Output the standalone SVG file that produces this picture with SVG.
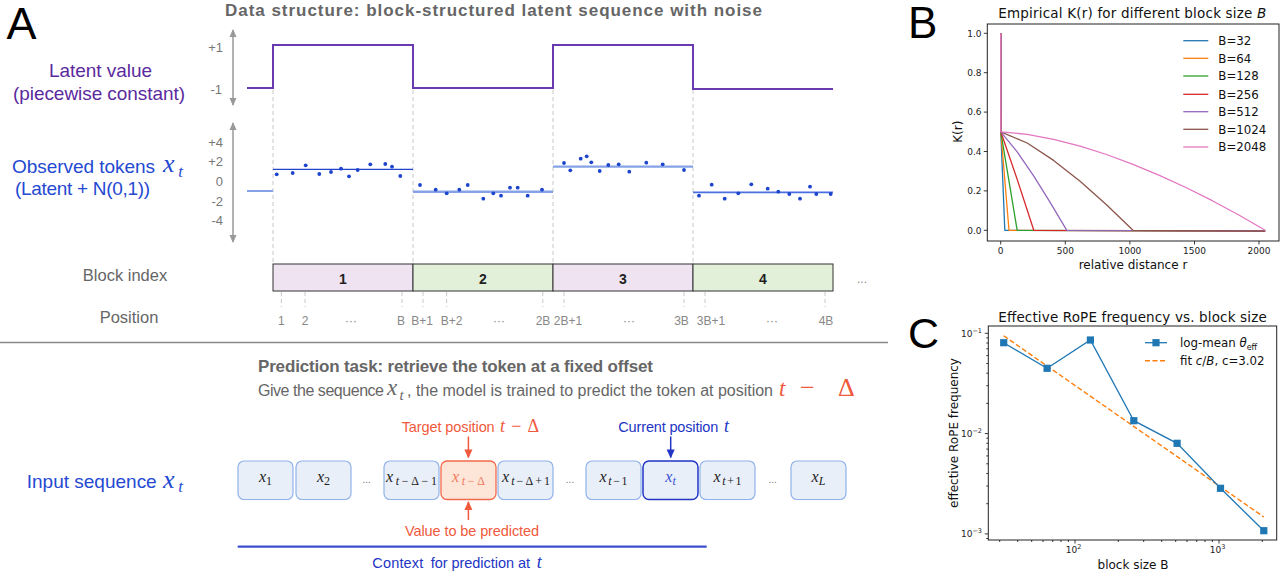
<svg xmlns="http://www.w3.org/2000/svg" width="1283" height="577" viewBox="0 0 1283 577">
<style>
  .sans{font-family:"Liberation Sans",Arial,Helvetica,sans-serif}
  .mpl{font-family:"DejaVu Sans",Verdana,sans-serif}
  .math{font-family:"Liberation Serif","Times New Roman",serif;font-style:italic}
  .up{font-style:normal}
  .panel{font-family:"Liberation Sans",Arial,sans-serif;fill:#000}
  .title{font-family:"Liberation Sans",Arial,sans-serif;font-size:17px;font-weight:bold;fill:#666}
  .purple{fill:#5b2a9e}
  .blue{fill:#2449d2}
  .dblue{fill:#2235c4}
  .orange{fill:#f05a3c}
  .gray{fill:#666}
  .ytl{fill:#777;font-size:13px}
  .dash{stroke:#c8c8c8;stroke-width:1;stroke-dasharray:4 3;fill:none}
  .vaxis{stroke:#999;stroke-width:1.5;fill:none}
  .dot{fill:#1c44cc}
  .blk{stroke:#333;stroke-width:1}
  .pb{fill:#efe3f2}
  .gb{fill:#e2efd9}
  .bnum{font-family:"Liberation Sans",Arial,sans-serif;font-size:14px;font-weight:bold;fill:#222}
  .pos{font-family:"Liberation Sans",Arial,sans-serif;fill:#888;font-size:12px}
  .tok{fill:#e9eff9;stroke:#91b2ea;stroke-width:1.2}
  .tl{font-size:16px;fill:#222}
  .sub{font-size:12px}
  .dots{font-family:"Liberation Sans",Arial,sans-serif;font-size:10px;fill:#777}
  .frame{fill:none;stroke:#222;stroke-width:1}
  .tk{stroke:#222;stroke-width:0.9}
  .tkl{font-family:"DejaVu Sans",Verdana,sans-serif;font-size:9px;fill:#222}
  .sup{font-size:6.5px}
  .curve{fill:none;stroke-width:1.3;stroke-linejoin:round}
</style>
<defs>
  <marker id="gHead" viewBox="0 0 8 8" refX="7" refY="4" markerWidth="8" markerHeight="8" markerUnits="userSpaceOnUse" orient="auto-start-reverse">
    <path d="M0,0.5 L8,4 L0,7.5 Z" fill="#999"/>
  </marker>
  <marker id="oHead" viewBox="0 0 10 10" refX="9" refY="5" markerWidth="9" markerHeight="9" markerUnits="userSpaceOnUse" orient="auto">
    <path d="M0,0.5 L10,5 L0,9.5 Z" fill="#f05a3c"/>
  </marker>
  <marker id="bHead" viewBox="0 0 10 10" refX="9" refY="5" markerWidth="9" markerHeight="9" markerUnits="userSpaceOnUse" orient="auto">
    <path d="M0,0.5 L10,5 L0,9.5 Z" fill="#2235c4"/>
  </marker>
  <rect id="sq" x="-3.6" y="-3.6" width="7.2" height="7.2" fill="#1f77b4"/>
</defs>

<!-- ===================== Panel A ===================== -->
<g id="panel-a">
  <text class="panel" x="6.5" y="39" font-size="45">A</text>
  <text class="title" x="225" y="16" textLength="537">Data structure: block-structured latent sequence with noise</text>

  <!-- left-hand row labels -->
  <g id="label-latent" class="sans purple" font-size="19" text-anchor="middle">
    <text x="100.5" y="77" textLength="103">Latent value</text>
    <text x="99" y="99.5" textLength="172">(piecewise constant)</text>
  </g>
  <g id="label-observed" class="blue">
    <text class="sans" x="12" y="173" font-size="19" textLength="143">Observed tokens</text>
    <text class="math" x="163" y="172" font-size="26">x</text>
    <text class="math" x="178.3" y="176.5" font-size="17">t</text>
    <text class="sans" x="15" y="195" font-size="19" textLength="135">(Latent + N(0,1))</text>
  </g>
  <g id="label-rows" class="sans gray" font-size="16.5" text-anchor="middle">
    <text x="125" y="281">Block index</text>
    <text x="129" y="323">Position</text>
  </g>

  <!-- vertical value axes -->
  <g id="value-axes">
    <line class="vaxis" x1="233" y1="30" x2="233" y2="105" marker-start="url(#gHead)" marker-end="url(#gHead)"/>
    <line class="vaxis" x1="233" y1="123" x2="233" y2="242" marker-start="url(#gHead)" marker-end="url(#gHead)"/>
    <g class="sans ytl" text-anchor="end">
      <text x="223" y="51.5">+1</text>
      <text x="222" y="94.3">-1</text>
      <text x="223" y="146.5">+4</text>
      <text x="223" y="166">+2</text>
      <text x="223" y="186">0</text>
      <text x="223" y="206">-2</text>
      <text x="223" y="225">-4</text>
    </g>
  </g>

  <!-- block boundaries -->
  <g id="boundaries">
    <line class="dash" x1="273" y1="90" x2="273" y2="264"/>
    <line class="dash" x1="413" y1="90" x2="413" y2="264"/>
    <line class="dash" x1="553" y1="90" x2="553" y2="264"/>
    <line class="dash" x1="693" y1="90" x2="693" y2="264"/>
  </g>

  <!-- latent step signal -->
  <polyline id="latent" fill="none" stroke="#6a3bb0" stroke-width="2" points="247,88 273,88 273,45 413,45 413,88 553,88 553,45 693,45 693,89 833,89"/>

  <!-- observed tokens: block means and samples -->
  <g id="observed">
    <line x1="247" y1="191" x2="273" y2="191" stroke="#86a2e6" stroke-width="2"/>
    <line x1="273" y1="169.3" x2="413" y2="169.3" stroke="#2244cc" stroke-width="1.3"/>
    <line x1="413" y1="191.7" x2="553" y2="191.7" stroke="#86a2e6" stroke-width="2.4"/>
    <line x1="553" y1="166.7" x2="693" y2="166.7" stroke="#86a2e6" stroke-width="2.2"/>
    <line x1="693" y1="192.3" x2="833" y2="192.3" stroke="#4b6fe0" stroke-width="1.8"/>
    <g class="dot">
      <circle cx="276.7" cy="174.3" r="1.9"/><circle cx="292.7" cy="173" r="1.9"/><circle cx="305.7" cy="165.3" r="1.9"/>
      <circle cx="319.3" cy="174" r="1.9"/><circle cx="331" cy="172" r="1.9"/><circle cx="341" cy="168.7" r="1.9"/>
      <circle cx="349" cy="176.3" r="1.9"/><circle cx="357.7" cy="170" r="1.9"/><circle cx="370.3" cy="164.3" r="1.9"/>
      <circle cx="385.3" cy="164" r="1.9"/><circle cx="392" cy="166.7" r="1.9"/><circle cx="400.3" cy="176" r="1.9"/>

      <circle cx="420" cy="185" r="1.9"/><circle cx="435.7" cy="189.7" r="1.9"/><circle cx="446.7" cy="193.3" r="1.9"/>
      <circle cx="459.3" cy="189.7" r="1.9"/><circle cx="467.7" cy="185" r="1.9"/><circle cx="483.3" cy="198.7" r="1.9"/>
      <circle cx="493.3" cy="193.3" r="1.9"/><circle cx="501" cy="195.7" r="1.9"/><circle cx="510" cy="187.7" r="1.9"/>
      <circle cx="517.7" cy="187.7" r="1.9"/><circle cx="527.7" cy="195.7" r="1.9"/><circle cx="542" cy="189.7" r="1.9"/>

      <circle cx="564" cy="163" r="1.9"/><circle cx="570.3" cy="170.3" r="1.9"/><circle cx="580.7" cy="158.7" r="1.9"/>
      <circle cx="586.7" cy="156.3" r="1.9"/><circle cx="591.3" cy="162.3" r="1.9"/><circle cx="599.7" cy="171" r="1.9"/>
      <circle cx="608.3" cy="165" r="1.9"/><circle cx="618.7" cy="164.3" r="1.9"/><circle cx="629.3" cy="171.7" r="1.9"/>
      <circle cx="646.3" cy="162.7" r="1.9"/><circle cx="662.7" cy="164.3" r="1.9"/><circle cx="684" cy="170" r="1.9"/>

      <circle cx="699" cy="195.7" r="1.9"/><circle cx="711.7" cy="184.7" r="1.9"/><circle cx="724.7" cy="198.7" r="1.9"/>
      <circle cx="738.3" cy="193.3" r="1.9"/><circle cx="751.3" cy="184.3" r="1.9"/><circle cx="767.7" cy="188.7" r="1.9"/>
      <circle cx="778.3" cy="191.7" r="1.9"/><circle cx="789.3" cy="194" r="1.9"/><circle cx="800" cy="198.7" r="1.9"/>
      <circle cx="810" cy="186.7" r="1.9"/><circle cx="816.3" cy="194" r="1.9"/><circle cx="830.7" cy="194" r="1.9"/>
    </g>
  </g>

  <!-- block index strip -->
  <g id="block-1"><rect class="blk pb" x="273" y="264" width="140" height="27"/><text class="bnum" x="343" y="284" text-anchor="middle">1</text></g>
  <g id="block-2"><rect class="blk gb" x="413" y="264" width="140" height="27"/><text class="bnum" x="483" y="284" text-anchor="middle">2</text></g>
  <g id="block-3"><rect class="blk pb" x="553" y="264" width="140" height="27"/><text class="bnum" x="623" y="284" text-anchor="middle">3</text></g>
  <g id="block-4"><rect class="blk gb" x="693" y="264" width="140" height="27"/><text class="bnum" x="763" y="284" text-anchor="middle">4</text></g>
  <text class="pos" x="862" y="283" text-anchor="middle">...</text>

  <!-- position ticks -->
  <g id="positions">
    <g class="dash">
      <line x1="281.4" y1="292" x2="281.4" y2="307"/><line x1="305" y1="292" x2="305" y2="307"/>
      <line x1="402" y1="292" x2="402" y2="307"/><line x1="423" y1="292" x2="423" y2="307"/>
      <line x1="446.6" y1="292" x2="446.6" y2="307"/><line x1="542.8" y1="292" x2="542.8" y2="307"/>
      <line x1="564" y1="292" x2="564" y2="307"/><line x1="684" y1="292" x2="684" y2="307"/>
      <line x1="705" y1="292" x2="705" y2="307"/><line x1="825" y1="292" x2="825" y2="307"/>
    </g>
    <g class="pos" text-anchor="middle">
      <text x="281.4" y="325">1</text><text x="305" y="325">2</text><text x="351" y="325">···</text>
      <text x="401" y="325">B</text><text x="422" y="325">B+1</text><text x="451.6" y="325">B+2</text>
      <text x="499" y="325">···</text><text x="543" y="325">2B</text><text x="568" y="325">2B+1</text>
      <text x="629" y="325">···</text><text x="681.5" y="325">3B</text><text x="711" y="325">3B+1</text>
      <text x="772" y="325">···</text><text x="826" y="325">4B</text>
    </g>
  </g>

  <!-- section divider -->
  <line id="divider" x1="0" y1="342.5" x2="888" y2="342.5" stroke="#888" stroke-width="1.5"/>

  <!-- prediction task -->
  <text class="title" x="258" y="372" font-size="16" textLength="395">Prediction task: retrieve the token at a fixed offset</text>
  <g id="task-text" class="gray">
    <text class="sans" x="258" y="396" font-size="16" textLength="126">Give the sequence</text>
    <text class="math" x="387" y="395" font-size="23">x</text>
    <text class="math" x="399.5" y="399.5" font-size="15">t</text>
    <text class="sans" x="407" y="396" font-size="16" textLength="366">, the model is trained to predict the token at position</text>
    <g class="orange">
      <text class="math" x="779" y="396" font-size="23">t</text>
      <text class="math up" x="800" y="396" font-size="26">−</text>
      <text class="math up" x="838" y="396" font-size="26">Δ</text>
    </g>
  </g>

  <g id="label-input" class="blue">
    <text class="sans" x="26.7" y="488" font-size="19" textLength="130">Input sequence</text>
    <text class="math" x="163" y="488" font-size="26">x</text>
    <text class="math" x="178.3" y="492" font-size="17">t</text>
  </g>

  <!-- token sequence -->
  <g id="tok-x1"><rect class="tok" x="238" y="461" width="55" height="38.5" rx="6"/><text class="math tl" x="265.5" y="482" text-anchor="middle">x<tspan class="sub up" dy="3">1</tspan></text></g>
  <g id="tok-x2"><rect class="tok" x="296" y="461" width="55" height="38.5" rx="6"/><text class="math tl" x="323.5" y="482" text-anchor="middle">x<tspan class="sub up" dy="3">2</tspan></text></g>
  <text class="dots" x="366.7" y="483" text-anchor="middle">...</text>
  <g id="tok-xtd-1"><rect class="tok" x="384" y="461" width="55" height="38.5" rx="6"/><text class="math tl" x="411.5" y="482" text-anchor="middle" textLength="51">x<tspan class="sub" dy="3">t</tspan><tspan class="sub up">−Δ−1</tspan></text></g>
  <g id="tok-xtd"><rect x="441" y="461" width="55" height="38.5" rx="6" fill="#fde5d8" stroke="#f2694b" stroke-width="1.3"/><text class="math tl" x="468.5" y="482" text-anchor="middle" textLength="33" style="fill:#f07a5c">x<tspan class="sub" dy="3">t</tspan><tspan class="sub up">−Δ</tspan></text></g>
  <g id="tok-xtd+1"><rect class="tok" x="498" y="461" width="55" height="38.5" rx="6"/><text class="math tl" x="526" y="482" text-anchor="middle" textLength="48">x<tspan class="sub" dy="3">t</tspan><tspan class="sub up">−Δ+1</tspan></text></g>
  <text class="dots" x="570" y="483" text-anchor="middle">...</text>
  <g id="tok-xt-1"><rect class="tok" x="586" y="461" width="55" height="38.5" rx="6"/><text class="math tl" x="613.5" y="482" text-anchor="middle" textLength="28">x<tspan class="sub" dy="3">t</tspan><tspan class="sub up">−1</tspan></text></g>
  <g id="tok-xt"><rect x="643" y="461" width="55" height="38.5" rx="6" fill="#e9eff9" stroke="#2235c4" stroke-width="1.5"/><text class="math tl" x="670.5" y="482" text-anchor="middle" style="fill:#3a52d6">x<tspan class="sub" dy="3">t</tspan></text></g>
  <g id="tok-xt+1"><rect class="tok" x="700" y="461" width="55" height="38.5" rx="6"/><text class="math tl" x="727.5" y="482" text-anchor="middle" textLength="28">x<tspan class="sub" dy="3">t</tspan><tspan class="sub up">+1</tspan></text></g>
  <text class="dots" x="772.7" y="483" text-anchor="middle">...</text>
  <g id="tok-xL"><rect class="tok" x="791" y="461" width="55" height="38.5" rx="6"/><text class="math tl" x="818.5" y="482" text-anchor="middle">x<tspan class="sub" dy="3">L</tspan></text></g>

  <!-- annotations -->
  <g id="note-target" class="orange">
    <text class="sans" x="401.7" y="431.5" font-size="14.5" textLength="93">Target position</text>
    <text class="math" x="500" y="431.5" font-size="18" textLength="39">t<tspan class="up"> − Δ</tspan></text>
  </g>
  <g id="note-current" class="dblue">
    <text class="sans" x="618.3" y="431.5" font-size="14.5" textLength="100">Current position</text>
    <text class="math" x="724" y="431.5" font-size="18">t</text>
  </g>
  <g id="note-value" class="orange">
    <text class="sans" x="405" y="536" font-size="14.5" textLength="134">Value to be predicted</text>
  </g>
  <g id="note-context" class="dblue">
    <text class="sans" x="372.3" y="568.3" font-size="14.5" textLength="51">Context</text>
    <text class="sans" x="430.7" y="568.3" font-size="14.5" textLength="99.3">for prediction at</text>
    <text class="math" x="536.7" y="568.3" font-size="18">t</text>
  </g>
</g>

<!-- connectors -->
<g id="connectors">
  <line x1="468.4" y1="436.5" x2="468.4" y2="457.5" stroke="#f05a3c" stroke-width="1.5" marker-end="url(#oHead)"/>
  <line x1="468.4" y1="520" x2="468.4" y2="502" stroke="#f05a3c" stroke-width="1.5" marker-end="url(#oHead)"/>
  <line x1="670.7" y1="436.5" x2="670.7" y2="457.5" stroke="#2235c4" stroke-width="1.5" marker-end="url(#bHead)"/>
  <line x1="237.7" y1="546.7" x2="706.7" y2="546.7" stroke="#3f4fcf" stroke-width="2.2"/>
</g>

<!-- ===================== Panel B ===================== -->
<g id="panel-b">
  <text class="panel" x="908" y="37.5" font-size="44">B</text>
  <text class="mpl" x="998.3" y="18.3" font-size="13.5" fill="#111" textLength="268">Empirical K(r) for different block size <tspan font-style="italic">B</tspan></text>

  <g id="b-curves" class="curve">
    <polyline stroke="#1f77b4" points="1000.7,33.3 1000.8,131.8 1004.8,230.3 1265.2,230.9"/>
    <polyline stroke="#ff7f0e" points="1000.7,33.3 1000.8,131.8 1009.0,230.3 1265.2,230.9"/>
    <polyline stroke="#2ca02c" points="1000.7,33.3 1000.8,131.8 1017.2,230.3 1265.2,230.9"/>
    <polyline stroke="#d62728" points="1000.7,33.3 1000.8,131.8 1017.2,179.4 1033.8,230.3 1265.2,230.9"/>
    <polyline stroke="#9467bd" points="1000.7,33.3 1000.8,131.8 1017.2,151.8 1033.8,176.2 1050.3,202.6 1066.8,230.3 1265.2,230.9"/>
    <polyline stroke="#8c564b" points="1000.7,33.3 1000.8,131.8 1027.2,143.0 1053.6,160.4 1080.1,181.2 1106.5,204.7 1133.0,230.3 1265.2,231.1"/>
    <polyline stroke="#e377c2" points="1000.7,33.3 1000.8,131.8 1027.2,134.3 1053.6,139.3 1080.1,146.2 1106.5,154.5 1133.0,164.3 1159.4,175.3 1185.9,187.5 1212.3,200.7 1238.8,215.0 1265.2,230.3"/>
  </g>

  <rect class="frame" x="987.3" y="24" width="291.7" height="217"/>
  <g id="b-yticks">
    <path class="tk" d="M983.8,33.3H987.3M983.8,72.7H987.3M983.8,112.1H987.3M983.8,151.5H987.3M983.8,190.9H987.3M983.8,230.3H987.3"/>
    <g class="tkl" text-anchor="end">
      <text x="981.5" y="36.5">1.0</text><text x="981.5" y="75.9">0.8</text><text x="981.5" y="115.3">0.6</text>
      <text x="981.5" y="154.7">0.4</text><text x="981.5" y="194.1">0.2</text><text x="981.5" y="233.5">0.0</text>
    </g>
  </g>
  <g id="b-xticks">
    <path class="tk" d="M1000.7,241V244.5M1065.3,241V244.5M1129.9,241V244.5M1194.5,241V244.5M1259,241V244.5"/>
    <g class="tkl" text-anchor="middle">
      <text x="1000.7" y="254">0</text><text x="1065.3" y="254">500</text><text x="1129.9" y="254">1000</text>
      <text x="1194.5" y="254">1500</text><text x="1259" y="254">2000</text>
    </g>
  </g>
  <text class="mpl" x="1133" y="269" font-size="12" fill="#111" text-anchor="middle">relative distance r</text>
  <text class="mpl" font-size="12" fill="#111" text-anchor="middle" transform="translate(962,131.7) rotate(-90)">K(r)</text>

  <g id="b-legend" class="mpl" font-size="11.8" fill="#111">
    <line x1="1183.3" y1="40.7" x2="1208.3" y2="40.7" stroke="#1f77b4" stroke-width="1.3"/><text x="1218.3" y="44.9">B=32</text>
    <line x1="1183.3" y1="58.3" x2="1208.3" y2="58.3" stroke="#ff7f0e" stroke-width="1.3"/><text x="1218.3" y="62.5">B=64</text>
    <line x1="1183.3" y1="76" x2="1208.3" y2="76" stroke="#2ca02c" stroke-width="1.3"/><text x="1218.3" y="80.2">B=128</text>
    <line x1="1183.3" y1="94.3" x2="1208.3" y2="94.3" stroke="#d62728" stroke-width="1.3"/><text x="1218.3" y="98.5">B=256</text>
    <line x1="1183.3" y1="111.7" x2="1208.3" y2="111.7" stroke="#9467bd" stroke-width="1.3"/><text x="1218.3" y="115.9">B=512</text>
    <line x1="1183.3" y1="129.3" x2="1208.3" y2="129.3" stroke="#8c564b" stroke-width="1.3"/><text x="1218.3" y="133.5">B=1024</text>
    <line x1="1183.3" y1="147" x2="1208.3" y2="147" stroke="#e377c2" stroke-width="1.3"/><text x="1218.3" y="151.2">B=2048</text>
  </g>
</g>

<!-- ===================== Panel C ===================== -->
<g id="panel-c">
  <text class="panel" x="908" y="347.5" font-size="43">C</text>
  <text class="mpl" x="998.3" y="321.7" font-size="13.5" fill="#111" textLength="268.4">Effective RoPE frequency vs. block size</text>

  <rect class="frame" x="988.3" y="326" width="288.4" height="214"/>

  <g id="c-yticks">
    <path class="tk" d="M984.8,333.3H988.3M984.8,433.6H988.3M984.8,533.9H988.3"/>
    <path class="tk" d="M986.3,337.9H988.3M986.3,343H988.3M986.3,348.8H988.3M986.3,355.6H988.3M986.3,363.5H988.3M986.3,373.2H988.3M986.3,385.7H988.3M986.3,403.4H988.3M986.3,438.2H988.3M986.3,443.3H988.3M986.3,449.1H988.3M986.3,455.9H988.3M986.3,463.8H988.3M986.3,473.5H988.3M986.3,486H988.3M986.3,503.7H988.3M986.3,538.5H988.3"/>
    <g class="tkl" text-anchor="end">
      <text x="982" y="336.5">10<tspan class="sup" dy="-4">−1</tspan></text>
      <text x="982" y="436.8">10<tspan class="sup" dy="-4">−2</tspan></text>
      <text x="982" y="537.1">10<tspan class="sup" dy="-4">−3</tspan></text>
    </g>
  </g>
  <g id="c-xticks">
    <path class="tk" d="M1075,540V543.5M1219,540V543.5"/>
    <path class="tk" d="M999.7,540V542M1017.7,540V542M1031.7,540V542M1043,540V542M1052.7,540V542M1061,540V542M1068.4,540V542M1118.3,540V542M1143.7,540V542M1161.7,540V542M1175.7,540V542M1187,540V542M1196.7,540V542M1205,540V542M1212.4,540V542M1262.3,540V542"/>
    <g class="tkl" text-anchor="middle">
      <text x="1073.5" y="553.3">10<tspan class="sup" dy="-4">2</tspan></text>
      <text x="1217.5" y="553.3">10<tspan class="sup" dy="-4">3</tspan></text>
    </g>
  </g>
  <text class="mpl" x="1133" y="569.3" font-size="12" fill="#111" text-anchor="middle">block size B</text>
  <text class="mpl" font-size="12" fill="#111" text-anchor="middle" transform="translate(957.5,433) rotate(-90)">effective RoPE frequency</text>

  <g id="c-data">
    <polyline fill="none" stroke="#ff7f0e" stroke-width="1.4" stroke-dasharray="5 2.5" points="1003.7,335.8 1263.8,517"/>
    <polyline fill="none" stroke="#1f77b4" stroke-width="1.3" points="1003.7,342.7 1047.1,368.3 1090.4,340 1133.8,420.7 1177.1,443.3 1220.5,488.3 1263.8,530.7"/>
    <use href="#sq" x="1003.7" y="342.7"/><use href="#sq" x="1047.1" y="368.3"/><use href="#sq" x="1090.4" y="340"/>
    <use href="#sq" x="1133.8" y="420.7"/><use href="#sq" x="1177.1" y="443.3"/><use href="#sq" x="1220.5" y="488.3"/>
    <use href="#sq" x="1263.8" y="530.7"/>
  </g>

  <g id="c-legend" class="mpl" font-size="11.8" fill="#111">
    <line x1="1145" y1="342.7" x2="1167" y2="342.7" stroke="#1f77b4" stroke-width="1.3"/>
    <use href="#sq" x="1156" y="342.7"/>
    <text x="1180" y="347">log-mean <tspan font-style="italic">θ</tspan><tspan font-size="8" dy="2.5">eff</tspan></text>
    <line x1="1145" y1="360.7" x2="1167" y2="360.7" stroke="#ff7f0e" stroke-width="1.4" stroke-dasharray="5 2.5"/>
    <text x="1180" y="365">fit <tspan font-style="italic">c</tspan>/<tspan font-style="italic">B</tspan>, c=3.02</text>
  </g>
</g>
</svg>
